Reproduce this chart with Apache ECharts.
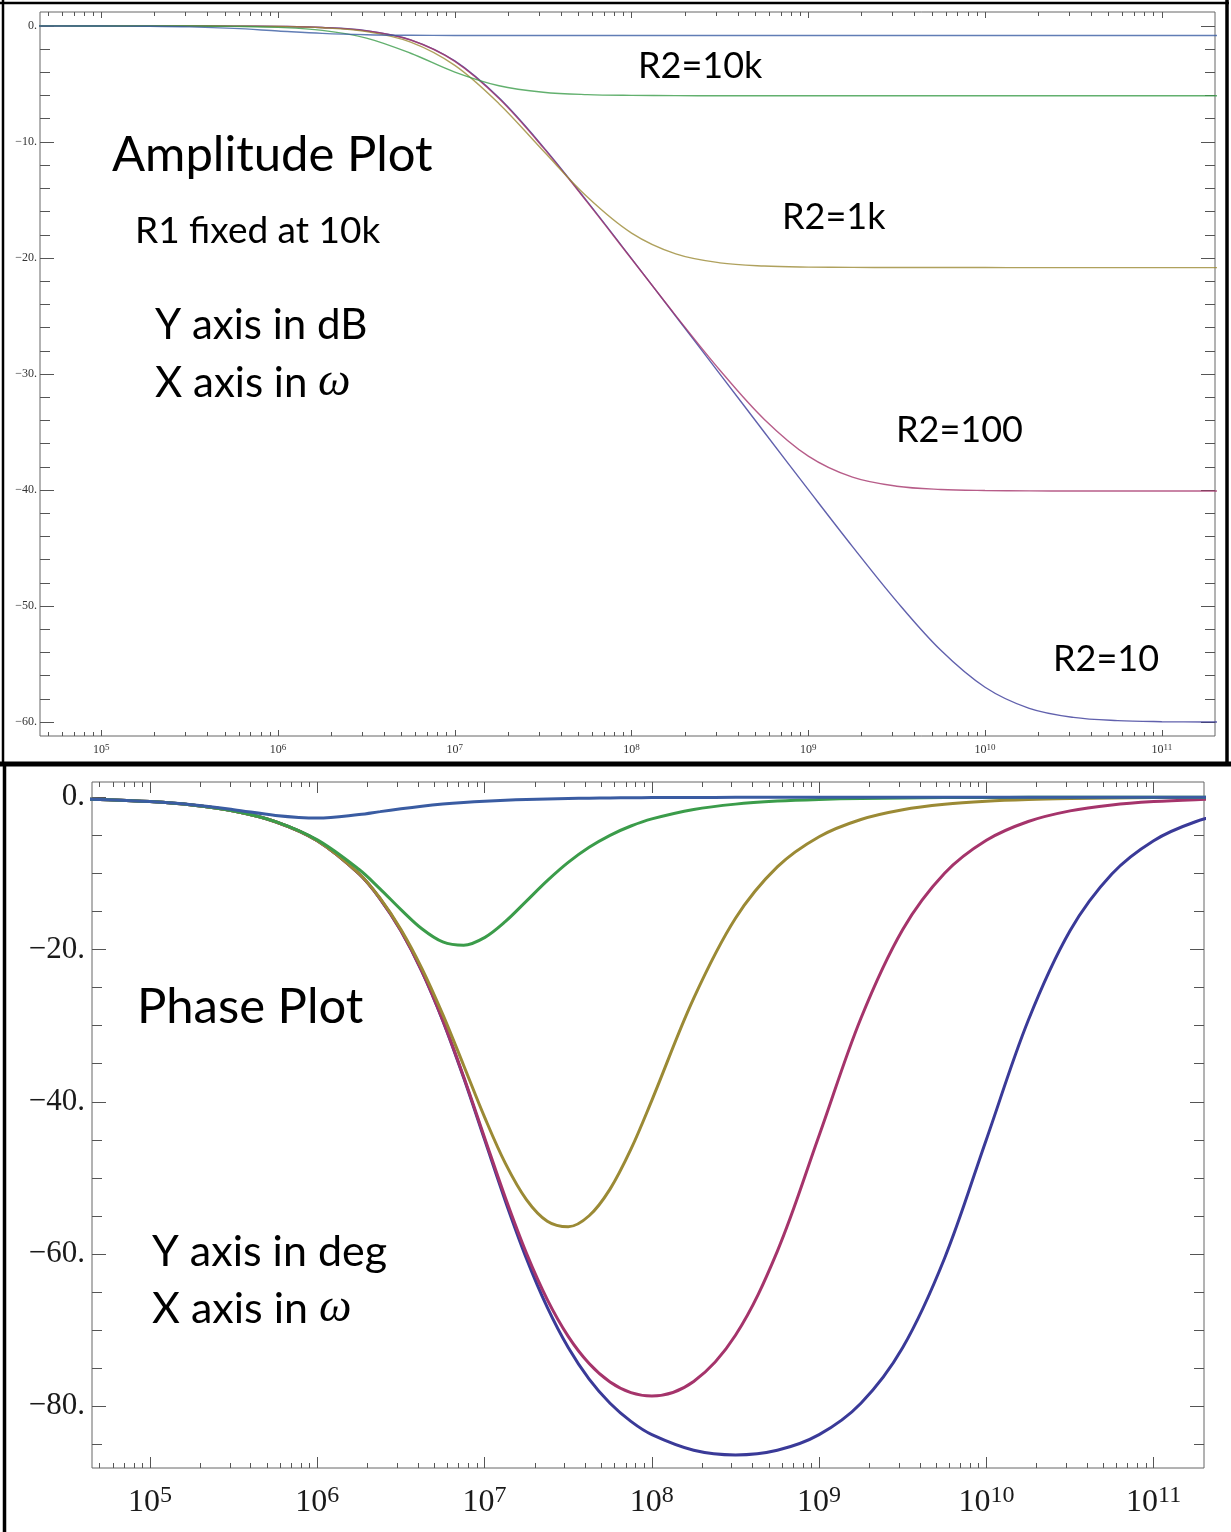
<!DOCTYPE html>
<html>
<head>
<meta charset="utf-8">
<title>Amplitude and Phase Plot</title>
<script src="https://cdn.jsdelivr.net/npm/echarts@6/dist/echarts.min.js"></script>
<style>
  html, body { margin: 0; padding: 0; background: #ffffff; }
  #chart { width: 1231px; height: 1532px; }
</style>
</head>
<body>
<div id="chart"></div>
<script>
// log10 of the angular frequency omega for every amplitude sample
const logOmega = [4.5, 4.75, 5, 5.25, 5.5, 5.75, 6, 6.25, 6.5, 6.75, 7, 7.25, 7.5, 7.75, 8, 8.25,
  8.5, 8.75, 9, 9.25, 9.5, 9.75, 10, 10.25, 10.5, 10.75, 11, 11.25, 11.5];

// amplitude in dB, R1 = 10k
const ampR2_10 = [0, 0, 0, -0.001, -0.004, -0.014, -0.043, -0.135, -0.415, -1.195, -3.015, -6.2,
  -10.422, -15.144, -20.051, -25.021, -30.009, -34.996, -39.966, -44.874, -49.595, -53.815,
  -56.998, -58.815, -59.595, -59.874, -59.966, -59.995, -60.004];
const ampR2_100 = [0, 0, 0, -0.001, -0.004, -0.014, -0.044, -0.138, -0.422, -1.214, -3.053, -6.258,
  -10.488, -15.206, -20.086, -24.965, -29.677, -33.894, -37.077, -38.893, -39.673, -39.951,
  -40.043, -40.073, -40.082, -40.085, -40.086, -40.086, -40.086];
const ampR2_1k = [0, 0, -0.001, -0.002, -0.005, -0.016, -0.052, -0.162, -0.492, -1.394, -3.401,
  -6.701, -10.759, -14.747, -17.853, -19.646, -20.418, -20.694, -20.785, -20.814, -20.824,
  -20.827, -20.827, -20.828, -20.828, -20.828, -20.828, -20.828, -20.828];
const ampR2_10k = [0, 0, -0.001, -0.004, -0.013, -0.041, -0.127, -0.382, -1.047, -2.357, -3.979,
  -5.158, -5.714, -5.92, -5.988, -6.01, -6.017, -6.02, -6.02, -6.021, -6.021, -6.021, -6.021,
  -6.021, -6.021, -6.021, -6.021, -6.021, -6.021];
const ampR2_100k = [-0.001, -0.003, -0.009, -0.028, -0.082, -0.214, -0.434, -0.643, -0.759, -0.805,
  -0.82, -0.825, -0.827, -0.828, -0.828, -0.828, -0.828, -0.828, -0.828, -0.828, -0.828, -0.828,
  -0.828, -0.828, -0.828, -0.828, -0.828, -0.828, -0.828];

// log10 omega for the phase samples (denser where the dips turn)
const logOmegaPhase = [4.5, 4.75, 5, 5.25, 5.5, 5.75, 6, 6.25, 6.375, 6.5, 6.625, 6.75, 6.875, 7,
  7.125, 7.25, 7.375, 7.5, 7.625, 7.75, 7.875, 8, 8.25, 8.5, 8.75, 9, 9.25, 9.5, 9.75, 10, 10.25,
  10.5, 10.75, 11, 11.25, 11.5];

// phase in degrees
const phaseR2_10 = [-0.181, -0.322, -0.573, -1.019, -1.811, -3.219, -5.711, -10.083, -13.34,
  -17.547, -22.861, -29.343, -36.851, -44.971, -53.085, -60.572, -67.016, -72.287, -76.431,
  -79.604, -81.982, -83.722, -85.766, -86.379, -85.764, -83.717, -79.595, -72.271, -60.548,
  -44.943, -29.319, -17.53, -10.073, -5.705, -3.216, -1.809];
const phaseR2_100 = [-0.181, -0.322, -0.573, -1.019, -1.811, -3.219, -5.71, -10.08, -13.333,
  -17.532, -22.828, -29.273, -36.71, -44.712, -52.643, -59.873, -65.98, -70.804, -74.372,
  -76.796, -78.19, -78.636, -76.73, -70.658, -59.64, -44.433, -29.031, -17.369, -9.986, -5.654,
  -3.187, -1.793, -1.009, -0.567, -0.319, -0.179];
const phaseR2_1k = [-0.181, -0.322, -0.573, -1.019, -1.811, -3.217, -5.704, -10.049, -13.261,
  -17.369, -22.47, -28.521, -35.23, -42.016, -48.122, -52.839, -55.685, -56.413, -54.969,
  -51.466, -46.222, -39.806, -26.425, -15.902, -9.157, -5.19, -2.926, -1.647, -0.926, -0.521,
  -0.293, -0.165, -0.093, -0.052, -0.029, -0.017];
const phaseR2_10k = [-0.181, -0.322, -0.573, -1.018, -1.808, -3.198, -5.599, -9.495, -12.033,
  -14.763, -17.279, -19.008, -19.44, -18.435, -16.313, -13.647, -10.959, -8.563, -6.579, -5.002,
  -3.781, -2.848, -1.608, -0.905, -0.509, -0.286, -0.161, -0.091, -0.051, -0.029, -0.016,
  -0.009, -0.005, -0.003, -0.002, -0.001];
const phaseR2_100k = [-0.181, -0.321, -0.567, -0.985, -1.632, -2.389, -2.726, -2.274, -1.89,
  -1.51, -1.175, -0.9, -0.684, -0.516, -0.389, -0.292, -0.219, -0.165, -0.123, -0.093, -0.069,
  -0.052, -0.029, -0.017, -0.009, -0.005, -0.003, -0.002, -0.001, -0.001, 0, 0, 0, 0, 0, 0];

// tick labels
const decadeExponents = [5, 6, 7, 8, 9, 10, 11];
const ampTicks = [0, -10, -20, -30, -40, -50, -60];
const phaseTicks = [0, -20, -40, -60, -80];

// series order: the last one is drawn on top
const curves = [
  { amp: ampR2_10, phase: phaseR2_10, color: '#3a3a98' },
  { amp: ampR2_100, phase: phaseR2_100, color: '#a5346b' },
  { amp: ampR2_1k, phase: phaseR2_1k, color: '#9b8a35' },
  { amp: ampR2_10k, phase: phaseR2_10k, color: '#3b9c4a' },
  { amp: ampR2_100k, phase: phaseR2_100k, color: '#3a5ca2' }
];

const X_MIN = 4.653;   // log10(4.5e4)
const X_MAX = 11.301;  // log10(2e11)

// minor ticks at 2..9 times each power of ten
const minorX = [];
for (let n = 4; n <= 11; n++) {
  for (let k = 2; k <= 9; k++) {
    const v = n + Math.log10(k);
    if (v > X_MIN && v < X_MAX) minorX.push(v);
  }
}
function stepTicks(from, to, step, skipEvery) {
  const out = [];
  for (let v = from; v >= to; v -= step) {
    if (skipEvery && v % skipEvery === 0) continue;
    out.push(v);
  }
  return out;
}

const TICK = '#555';
const serif = '"Liberation Serif", "DejaVu Serif", serif';

function fmtY(v) {
  return v === 0 ? '0.' : '\u2212' + Math.abs(v) + '.';
}

function xAxes(grid, big) {
  const len = big ? [11, 5] : [6, 4];
  const rich = big
    ? { b: { fontFamily: serif, fontSize: 32, color: '#1a1a1a' },
        s: { fontFamily: serif, fontSize: 24, color: '#1a1a1a', padding: [0, 0, 14, 0] } }
    : { b: { fontFamily: serif, fontSize: 12, color: '#333' },
        s: { fontFamily: serif, fontSize: 9, color: '#333', padding: [0, 0, 5, 0] } };
  const base = {
    type: 'value', gridIndex: grid, min: X_MIN, max: X_MAX,
    axisLine: { show: false, onZero: false }, splitLine: { show: false }
  };
  return [
    Object.assign({}, base, {
      position: 'bottom',
      axisTick: { customValues: decadeExponents, inside: true, length: len[0], lineStyle: { color: TICK, width: 1 } },
      axisLabel: {
        customValues: decadeExponents, margin: big ? 16 : 7,
        formatter: v => '{b|10}{s|' + Math.round(v) + '}', rich: rich
      }
    }),
    Object.assign({}, base, {
      position: 'bottom',
      axisTick: { customValues: minorX, inside: true, length: len[1], lineStyle: { color: TICK, width: 1 } },
      axisLabel: { show: false }
    }),
    Object.assign({}, base, {
      position: 'top',
      axisTick: { customValues: decadeExponents, inside: true, length: len[0], lineStyle: { color: TICK, width: 1 } },
      axisLabel: { show: false }
    }),
    Object.assign({}, base, {
      position: 'top',
      axisTick: { customValues: minorX, inside: true, length: len[1], lineStyle: { color: TICK, width: 1 } },
      axisLabel: { show: false }
    })
  ];
}

function yAxes(grid, min, max, majors, minors, big) {
  const base = {
    type: 'value', gridIndex: grid, min: min, max: max,
    axisLine: { show: false, onZero: false }, splitLine: { show: false }
  };
  return [
    Object.assign({}, base, {
      position: 'left',
      axisTick: { customValues: majors, inside: true, length: 14, lineStyle: { color: TICK, width: 1 } },
      axisLabel: {
        customValues: majors, margin: big ? 7 : 3, formatter: fmtY,
        fontFamily: serif, fontSize: big ? 31 : 12, color: big ? '#1a1a1a' : '#333'
      }
    }),
    Object.assign({}, base, {
      position: 'left',
      axisTick: { customValues: minors, inside: true, length: 10, lineStyle: { color: TICK, width: 1 } },
      axisLabel: { show: false }
    }),
    Object.assign({}, base, {
      position: 'right',
      axisTick: { customValues: majors, inside: true, length: 14, lineStyle: { color: TICK, width: 1 } },
      axisLabel: { show: false }
    }),
    Object.assign({}, base, {
      position: 'right',
      axisTick: { customValues: minors, inside: true, length: 10, lineStyle: { color: TICK, width: 1 } },
      axisLabel: { show: false }
    })
  ];
}

const series = [];
curves.forEach(c => {
  series.push({
    type: 'line', xAxisIndex: 0, yAxisIndex: 0, showSymbol: false, smooth: 0.35,
    lineStyle: { color: c.color, width: 1.4, opacity: 0.8 },
    data: logOmega.map((x, i) => [x, c.amp[i]])
  });
});
curves.forEach(c => {
  series.push({
    type: 'line', xAxisIndex: 4, yAxisIndex: 4, showSymbol: false, smooth: 0.35,
    lineStyle: { color: c.color, width: 3 },
    data: logOmegaPhase.map((x, i) => [x, c.phase[i]])
  });
});

const sans = 'Lato, "Open Sans", sans-serif';
function note(text, x, y, size, rich) {
  return {
    type: 'text', x: x, y: y, z: 100,
    style: {
      text: text, fontFamily: sans, fontSize: size, fill: '#000',
      align: 'left', verticalAlign: 'middle', textAlign: 'left', textVerticalAlign: 'middle',
      rich: rich || undefined
    }
  };
}
const omegaRich = { w: { fontFamily: serif, fontStyle: 'italic', fontSize: 46, fill: '#000' } };

const frame = { stroke: '#000' };
const chart = echarts.init(document.getElementById('chart'), null, { renderer: 'canvas' });
chart.setOption({
  animation: false,
  backgroundColor: '#ffffff',
  grid: [
    { left: 40, top: 12, width: 1175, height: 724, show: true, borderColor: '#666', borderWidth: 1, outerBoundsMode: 'none' },
    { left: 92, top: 782, width: 1112, height: 686, show: true, borderColor: '#666', borderWidth: 1, outerBoundsMode: 'none' }
  ],
  xAxis: xAxes(0, false).concat(xAxes(1, true)),
  yAxis: yAxes(0, -61.2, 1.2, ampTicks, stepTicks(0, -60, 2, 10), false)
    .concat(yAxes(1, -88.1, 2.0, phaseTicks, stepTicks(0, -85, 5, 20), true)),
  series: series,
  graphic: [
    // panel borders
    { type: 'line', shape: { x1: 0, y1: 3, x2: 1229, y2: 3 }, style: Object.assign({ lineWidth: 2.5 }, frame) },
    { type: 'line', shape: { x1: 3, y1: 0, x2: 3, y2: 765 }, style: Object.assign({ lineWidth: 2.5 }, frame) },
    { type: 'line', shape: { x1: 1227, y1: 0, x2: 1227, y2: 765 }, style: Object.assign({ lineWidth: 3.5 }, frame) },
    { type: 'line', shape: { x1: 0, y1: 764, x2: 1231, y2: 764 }, style: Object.assign({ lineWidth: 5 }, frame) },
    { type: 'line', shape: { x1: 4.5, y1: 762, x2: 4.5, y2: 1532 }, style: Object.assign({ lineWidth: 3.5 }, frame) },
    // annotations
    note('Amplitude Plot', 112, 155, 49),
    note('R1 fixed at 10k', 135, 231, 37),
    note('Y axis in dB', 155, 325, 42),
    note('X axis in {w|\u03c9}', 155, 383, 42, omegaRich),
    note('R2=10k', 638, 66, 36),
    note('R2=1k', 782, 217, 36),
    note('R2=100', 896, 430, 36),
    note('R2=10', 1053, 659, 36),
    note('Phase Plot', 137, 1007, 49),
    note('Y axis in deg', 152, 1252, 43),
    note('X axis in {w|\u03c9}', 152, 1309, 43, omegaRich)
  ]
});
</script>
</body>
</html>
